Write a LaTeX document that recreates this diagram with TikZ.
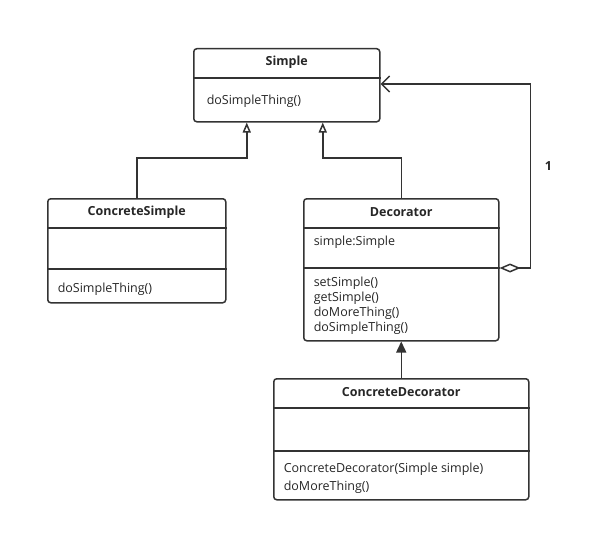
\documentclass[tikz,border=0pt]{standalone}
\usepackage{fontspec}
\setmainfont{Open Sans}
\usetikzlibrary{arrows.meta, positioning, calc}

\begin{document}
\begin{tikzpicture}[x=1pt, y=-1pt, line width=1.5pt, draw=black!80,
  every node/.style = {font=\fontsize{12.5}{15}\selectfont, text=black!85},
  umlbox/.style = {draw=black!80, rounded corners=3pt, anchor=north west, inner sep=0pt},
  title/.style = {font=\fontsize{12.5}{15}\selectfont\bfseries},
  member/.style = {anchor=west, align=left, inner sep=0pt},
  inherit/.style = {-{Triangle[open, length=10pt, width=8pt]}},
  realize/.style = {-{Triangle[length=11pt, width=10pt]}},
  aggr/.style = {{Diamond[open, length=21pt, width=9pt]}-{Straight Barb[length=8pt, width=16pt]}}]
  \useasboundingbox (0,0) rectangle (612,532);

  % classes
  \node[umlbox, minimum width=186pt, minimum height=73pt] (simple) at (193,48) {};
  \draw ($(simple.north west)+(0,30)$) -- ($(simple.north east)+(0,30)$);
  \node[title] (simpleT) at ($(simple.north)+(0,14)$) {Simple};
  \node[member] (simpleM) at (206,101) {doSimpleThing()};

  \node[umlbox, minimum width=178pt, minimum height=104pt] (csimple) at (47,198) {};
  \draw ($(csimple.north west)+(0,30)$) -- ($(csimple.north east)+(0,30)$);
  \draw ($(csimple.north west)+(0,71)$) -- ($(csimple.north east)+(0,71)$);
  \node[title] (csimpleT) at ($(csimple.north)+(0,14)$) {ConcreteSimple};
  \node[member] (csimpleM) at (57,289) {doSimpleThing()};

  \node[umlbox, minimum width=195pt, minimum height=142pt] (decor) at (303,198) {};
  \draw ($(decor.north west)+(0,30)$) -- ($(decor.north east)+(0,30)$);
  \draw ($(decor.north west)+(0,70)$) -- ($(decor.north east)+(0,70)$);
  \node[title] (decorT) at ($(decor.north)+(0,14)$) {Decorator};
  \node[member] (decorA) at (313,242) {simple:Simple};
  \node[member, anchor=north west] (decorM) at (313,276)
    {setSimple()\\getSimple()\\doMoreThing()\\doSimpleThing()};

  \node[umlbox, minimum width=255pt, minimum height=121pt] (cdecor) at (273,378) {};
  \draw ($(cdecor.north west)+(0,30)$) -- ($(cdecor.north east)+(0,30)$);
  \draw ($(cdecor.north west)+(0,73)$) -- ($(cdecor.north east)+(0,73)$);
  \node[title] (cdecorT) at ($(cdecor.north)+(0,14)$) {ConcreteDecorator};
  \node[member, anchor=north west] (cdecorM) at (283,462)
    {ConcreteDecorator(Simple simple)\\[3pt]doMoreThing()};

  % relations
  \draw[inherit] (csimple.north) -- ++(0,-40) -| ($(simple.south)+(-40,0)$);
  \draw[inherit] (decor.north) -- ++(0,-40) -| ($(simple.south)+(36,0)$);
  \draw[realize] (cdecor.north) -- (decor.south);
  \draw[aggr] ($(decor.north east)+(0,70)$) -- ++(31,0) |- ($(simple.north east)+(0,36)$);
  \node[title] (mult) at ($(simple.north east)+(168,118)$) {1};
\end{tikzpicture}
\end{document}
